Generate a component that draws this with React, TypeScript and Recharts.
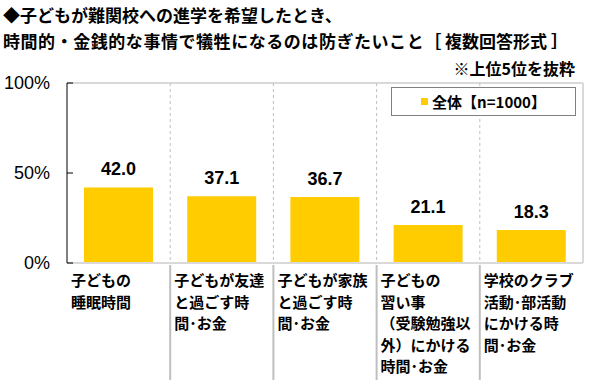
import React from "react";
import { BarChart, Bar, XAxis, YAxis, ReferenceLine, LabelList } from "recharts";

const categories = [
  "子どもの睡眠時間",
  "子どもが友達と過ごす時間・お金",
  "子どもが家族と過ごす時間・お金",
  "子どもの習い事（受験勉強以外）にかける時間・お金",
  "学校のクラブ活動・部活動にかける時間・お金",
];
const categoryLines = [
  ["子どもの", "睡眠時間"],
  ["子どもが友達", "と過ごす時", "間･お金"],
  ["子どもが家族", "と過ごす時", "間･お金"],
  ["子どもの", "習い事", "（受験勉強以", "外）にかける", "時間･お金"],
  ["学校のクラブ", "活動･部活動", "にかける時", "間･お金"],
];
const values = [42.0, 37.1, 36.7, 21.1, 18.3];
const yTicks = [0, 50, 100];
const seriesName = "全体【n=1000】";
const seriesColor = "#FFCC00";
const titleLine1 = "◆子どもが難関校への進学を希望したとき、";
const titleLine2a = "時間的・金銭的な事情で犠牲になるのは防ぎたいこと";
const titleLine2b = "［ 複数回答形式 ］";
const note = "※上位5位を抜粋";

const data = categories.map((c, i) => ({ name: c, value: values[i] }));

const W = 591;
const H = 380;
const M = { top: 83, right: 8, bottom: 0, left: 0 };
const Y_AXIS_W = 67;
const X_AXIS_H = 117;
const PLOT_W = W - M.left - M.right - Y_AXIS_W;
const BAND = PLOT_W / categories.length;
const JP = "'Noto Sans CJK JP', 'Noto Sans', sans-serif";
const NUM = "'Liberation Sans', Arial, sans-serif";

const XTick = (props: any) => {
  const { x, y, index } = props;
  const left = x - BAND / 2;
  const lines = categoryLines[index] || [];
  return (
    <g>
      {index > 0 && (
        <line x1={left} x2={left} y1={M.top} y2={y} stroke="#bfbfbf" strokeDasharray="3 3" />
      )}
      {index > 0 && (
        <line x1={left} x2={left} y1={y + 2} y2={H} stroke="#bfbfbf" strokeWidth={2} />
      )}
      {index === categories.length - 1 && (
        <line x1={x + BAND / 2} x2={x + BAND / 2} y1={M.top} y2={y} stroke="#d9d9d9" strokeWidth={2} />
      )}
      <text x={left + 4} y={y} fontFamily={JP} fontWeight="bold" fontSize={15} fill="#000">
        {lines.map((l, i) => (
          <tspan key={i} x={left + 4} dy={i === 0 ? 23 : 21.5}>
            {l}
          </tspan>
        ))}
      </text>
    </g>
  );
};

const YTick = (props: any) => {
  const { x, y, payload } = props;
  return (
    <g>
      <line x1={x + 17} x2={x + 23} y1={y} y2={y} stroke="#000" />
      <text x={x} y={y + 6} textAnchor="end" fontFamily={NUM} fontSize={18} fill="#000">
        {payload.value}%
      </text>
    </g>
  );
};

export default function App() {
  return (
    <div style={{ position: "absolute", left: 0, top: 0, width: W, height: H, background: "#fff" }}>
      <div
        style={{
          position: "absolute",
          left: 3,
          top: 2,
          fontFamily: JP,
          fontWeight: "bold",
          fontSize: 17,
          lineHeight: "26px",
          color: "#000",
          whiteSpace: "nowrap",
        }}
      >
        <div>{titleLine1}</div>
        <div>
          <span style={{ letterSpacing: "0.55px" }}>{titleLine2a}</span>
          <span>{titleLine2b}</span>
        </div>
      </div>
      <div
        style={{
          position: "absolute",
          right: 16,
          top: 56,
          fontFamily: JP,
          fontWeight: "bold",
          fontSize: 16,
          color: "#000",
          whiteSpace: "nowrap",
        }}
      >
        {note}
      </div>
      <BarChart width={W} height={H} data={data} margin={M}>
        <ReferenceLine y={100} stroke="#d9d9d9" strokeWidth={2} />
        <XAxis
          dataKey="name"
          height={X_AXIS_H}
          interval={0}
          tickLine={false}
          tickSize={0}
          tickMargin={0}
          axisLine={{ stroke: "#d9d9d9", strokeWidth: 2 }}
          tick={<XTick />}
        />
        <YAxis
          width={Y_AXIS_W}
          domain={[0, 100]}
          ticks={yTicks}
          tickLine={false}
          tickSize={0}
          tickMargin={17}
          axisLine={{ stroke: "#000" }}
          tick={<YTick />}
        />
        <Bar dataKey="value" name={seriesName} fill={seriesColor} barSize={69} isAnimationActive={false}>
          <LabelList
            dataKey="value"
            position="top"
            offset={12}
            formatter={(v: any) => Number(v).toFixed(1)}
            style={{ fontFamily: NUM, fontSize: 18, fontWeight: "bold", fill: "#000" }}
          />
        </Bar>
      </BarChart>
      <div
        style={{
          position: "absolute",
          left: 391,
          top: 87,
          boxSizing: "border-box",
          width: 185,
          height: 29,
          border: "1px solid #808080",
          background: "#fff",
          display: "flex",
          alignItems: "center",
          justifyContent: "center",
          fontFamily: JP,
          fontWeight: "bold",
          fontSize: 15,
          color: "#000",
        }}
      >
        <span style={{ display: "inline-block", width: 7, height: 7, background: seriesColor, marginRight: 4 }} />
        <span>{seriesName}</span>
      </div>
    </div>
  );
}
